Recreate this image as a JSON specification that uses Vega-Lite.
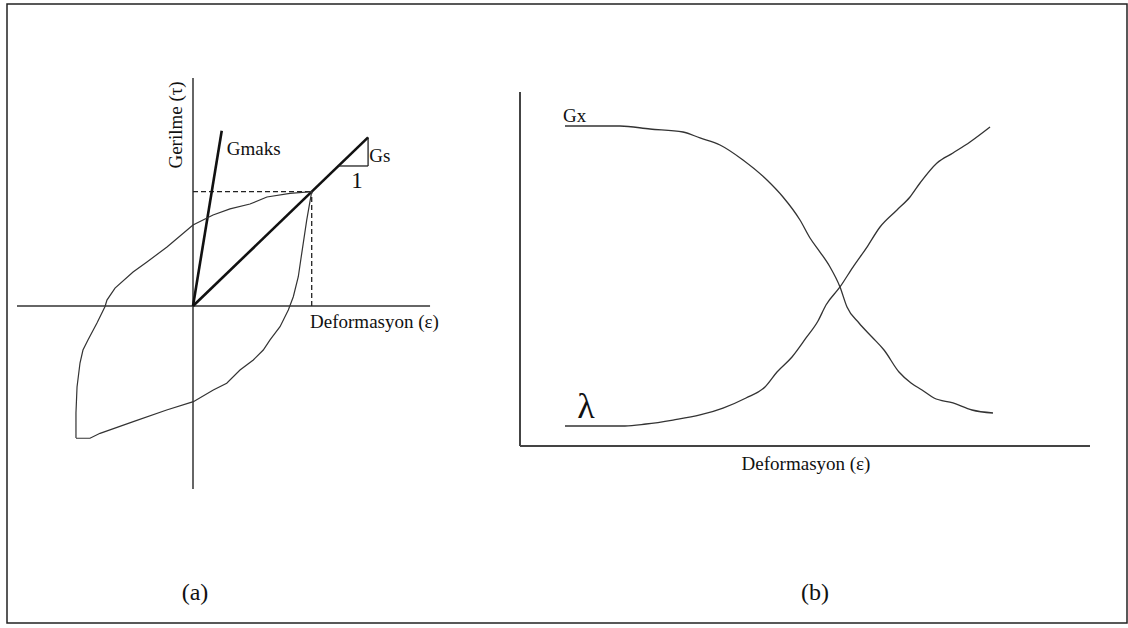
{
  "$schema": "https://vega.github.io/schema/vega-lite/v6.json",
  "width": 1128,
  "height": 628,
  "autosize": {"type": "fit", "contains": "padding"},
  "padding": {"left": 7, "top": 4, "right": 1, "bottom": 5},
  "background": "white",
  "config": {
    "view": {"stroke": "#222", "strokeWidth": 1.5},
    "text": {"font": "Liberation Serif", "color": "#111"}
  },
  "datasets": {
    "loop": [
      {"i": 0, "eps": -0.986, "tau": -1.155},
      {"i": 1, "eps": -0.986, "tau": -0.936},
      {"i": 2, "eps": -0.977, "tau": -0.709},
      {"i": 3, "eps": -0.952, "tau": -0.499},
      {"i": 4, "eps": -0.927, "tau": -0.385},
      {"i": 5, "eps": -0.885, "tau": -0.297},
      {"i": 6, "eps": -0.809, "tau": -0.149},
      {"i": 7, "eps": -0.741, "tau": -0.004},
      {"i": 8, "eps": -0.725, "tau": 0.052},
      {"i": 9, "eps": -0.657, "tau": 0.157},
      {"i": 10, "eps": -0.505, "tau": 0.297},
      {"i": 11, "eps": -0.388, "tau": 0.385},
      {"i": 12, "eps": -0.219, "tau": 0.516},
      {"i": 13, "eps": 0.0, "tau": 0.709},
      {"i": 14, "eps": 0.169, "tau": 0.796},
      {"i": 15, "eps": 0.312, "tau": 0.85},
      {"i": 16, "eps": 0.48, "tau": 0.892},
      {"i": 17, "eps": 0.623, "tau": 0.954},
      {"i": 18, "eps": 0.817, "tau": 0.986},
      {"i": 19, "eps": 1.0, "tau": 1.0},
      {"i": 20, "eps": 0.958, "tau": 0.752},
      {"i": 21, "eps": 0.916, "tau": 0.461},
      {"i": 22, "eps": 0.887, "tau": 0.256},
      {"i": 23, "eps": 0.845, "tau": 0.081},
      {"i": 24, "eps": 0.803, "tau": -0.035},
      {"i": 25, "eps": 0.733, "tau": -0.181},
      {"i": 26, "eps": 0.649, "tau": -0.297},
      {"i": 27, "eps": 0.592, "tau": -0.385},
      {"i": 28, "eps": 0.508, "tau": -0.472},
      {"i": 29, "eps": 0.396, "tau": -0.56},
      {"i": 30, "eps": 0.284, "tau": -0.676},
      {"i": 31, "eps": 0.171, "tau": -0.735},
      {"i": 32, "eps": 0.003, "tau": -0.837},
      {"i": 33, "eps": -0.222, "tau": -0.91},
      {"i": 34, "eps": -0.503, "tau": -1.012},
      {"i": 35, "eps": -0.783, "tau": -1.114},
      {"i": 36, "eps": -0.868, "tau": -1.157},
      {"i": 37, "eps": -0.986, "tau": -1.157}
    ],
    "segA": [
      {"part": "axis", "eps": -1.483, "tau": 0, "eps2": 1.997, "tau2": 0},
      {"part": "axis", "eps": 0, "tau": -1.601, "eps2": 0, "tau2": 1.995},
      {"part": "dash", "eps": 0, "tau": 1, "eps2": 1, "tau2": 1},
      {"part": "dash", "eps": 1, "tau": 0, "eps2": 1, "tau2": 1},
      {"part": "secant", "eps": 0, "tau": 0, "eps2": 0.242, "tau2": 1.534},
      {"part": "secant", "eps": 0, "tau": 0, "eps2": 1.475, "tau2": 1.475},
      {"part": "tri", "eps": 1.225, "tau": 1.225, "eps2": 1.475, "tau2": 1.225},
      {"part": "tri", "eps": 1.475, "tau": 1.225, "eps2": 1.475, "tau2": 1.475}
    ],
    "textA": [
      {"label": "Gerilme (τ)", "eps": -0.143, "tau": 1.584},
      {"label": "Gmaks", "eps": 0.284, "tau": 1.321},
      {"label": "Gs", "eps": 1.485, "tau": 1.262},
      {"label": "1", "eps": 1.382, "tau": 1.029},
      {"label": "Deformasyon (ε)", "eps": 0.986, "tau": -0.192},
      {"label": "(a)", "eps": 0.017, "tau": -2.572}
    ],
    "curvesB": [
      {"series": "λ", "i": 0, "x": 0.789, "y": 0.565},
      {"series": "λ", "i": 1, "x": 1.404, "y": 0.565},
      {"series": "λ", "i": 2, "x": 1.842, "y": 0.565},
      {"series": "λ", "i": 3, "x": 2.211, "y": 0.621},
      {"series": "λ", "i": 4, "x": 2.684, "y": 0.734},
      {"series": "λ", "i": 5, "x": 3.158, "y": 0.876},
      {"series": "λ", "i": 6, "x": 3.561, "y": 1.073},
      {"series": "λ", "i": 7, "x": 3.965, "y": 1.356},
      {"series": "λ", "i": 8, "x": 4.298, "y": 1.667},
      {"series": "λ", "i": 9, "x": 4.509, "y": 2.09},
      {"series": "λ", "i": 10, "x": 4.772, "y": 2.514},
      {"series": "λ", "i": 11, "x": 5.018, "y": 3.051},
      {"series": "λ", "i": 12, "x": 5.228, "y": 3.531},
      {"series": "λ", "i": 13, "x": 5.368, "y": 3.983},
      {"series": "λ", "i": 14, "x": 5.614, "y": 4.492},
      {"series": "λ", "i": 15, "x": 5.842, "y": 5.056},
      {"series": "λ", "i": 16, "x": 6.088, "y": 5.621},
      {"series": "λ", "i": 17, "x": 6.316, "y": 6.186},
      {"series": "λ", "i": 18, "x": 6.614, "y": 6.667},
      {"series": "λ", "i": 19, "x": 6.842, "y": 7.034},
      {"series": "λ", "i": 20, "x": 7.018, "y": 7.429},
      {"series": "λ", "i": 21, "x": 7.316, "y": 7.994},
      {"series": "λ", "i": 22, "x": 7.596, "y": 8.277},
      {"series": "λ", "i": 23, "x": 7.895, "y": 8.588},
      {"series": "λ", "i": 24, "x": 8.246, "y": 9.011},
      {"series": "G", "i": 0, "x": 0.789, "y": 9.04},
      {"series": "G", "i": 1, "x": 1.754, "y": 9.04},
      {"series": "G", "i": 2, "x": 2.281, "y": 8.955},
      {"series": "G", "i": 3, "x": 2.86, "y": 8.87},
      {"series": "G", "i": 4, "x": 3.158, "y": 8.701},
      {"series": "G", "i": 5, "x": 3.509, "y": 8.503},
      {"series": "G", "i": 6, "x": 3.912, "y": 8.079},
      {"series": "G", "i": 7, "x": 4.333, "y": 7.514},
      {"series": "G", "i": 8, "x": 4.614, "y": 7.034},
      {"series": "G", "i": 9, "x": 4.912, "y": 6.384},
      {"series": "G", "i": 10, "x": 5.088, "y": 5.876},
      {"series": "G", "i": 11, "x": 5.263, "y": 5.48},
      {"series": "G", "i": 12, "x": 5.439, "y": 5.056},
      {"series": "G", "i": 13, "x": 5.614, "y": 4.492},
      {"series": "G", "i": 14, "x": 5.737, "y": 3.927},
      {"series": "G", "i": 15, "x": 5.947, "y": 3.475},
      {"series": "G", "i": 16, "x": 6.175, "y": 3.079},
      {"series": "G", "i": 17, "x": 6.386, "y": 2.712},
      {"series": "G", "i": 18, "x": 6.649, "y": 2.09},
      {"series": "G", "i": 19, "x": 6.86, "y": 1.78},
      {"series": "G", "i": 20, "x": 7.053, "y": 1.582},
      {"series": "G", "i": 21, "x": 7.263, "y": 1.356},
      {"series": "G", "i": 22, "x": 7.596, "y": 1.215},
      {"series": "G", "i": 23, "x": 7.93, "y": 1.017},
      {"series": "G", "i": 24, "x": 8.298, "y": 0.932}
    ],
    "segB": [
      {"x": 0, "y": 0, "x2": 0, "y2": 10},
      {"x": 0, "y": 0, "x2": 10, "y2": 0}
    ],
    "textB": [
      {"label": "Gx", "x": 0.754, "y": 9.153},
      {"label": "λ", "x": 1.158, "y": 0.791},
      {"label": "Deformasyon (ε)", "x": 5.018, "y": -0.678},
      {"label": "(b)", "x": 5.175, "y": -4.35}
    ]
  },
  "resolve": {"scale": {"x": "independent", "y": "independent"}},
  "layer": [
    {
      "data": {"name": "segA"},
      "transform": [{"filter": "datum.part === 'axis'"}],
      "mark": {"type": "rule", "color": "#333", "strokeWidth": 1.5},
      "encoding": {
        "x": {"field": "eps", "type": "quantitative", "scale": {"domain": [-1.567, 7.8686], "nice": false, "zero": false}, "axis": null},
        "y": {"field": "tau", "type": "quantitative", "scale": {"domain": [-2.7734, 2.6422], "nice": false, "zero": false}, "axis": null},
        "x2": {"field": "eps2"},
        "y2": {"field": "tau2"}
      }
    },
    {
      "data": {"name": "segA"},
      "transform": [{"filter": "datum.part === 'dash'"}],
      "mark": {"type": "rule", "color": "#222", "strokeWidth": 1.3, "strokeDash": [5, 3]},
      "encoding": {
        "x": {"field": "eps", "type": "quantitative", "scale": {"domain": [-1.567, 7.8686], "nice": false, "zero": false}, "axis": null},
        "y": {"field": "tau", "type": "quantitative", "scale": {"domain": [-2.7734, 2.6422], "nice": false, "zero": false}, "axis": null},
        "x2": {"field": "eps2"},
        "y2": {"field": "tau2"}
      }
    },
    {
      "data": {"name": "segA"},
      "transform": [{"filter": "datum.part === 'secant'"}],
      "mark": {"type": "rule", "color": "#111", "strokeWidth": 2.6},
      "encoding": {
        "x": {"field": "eps", "type": "quantitative", "scale": {"domain": [-1.567, 7.8686], "nice": false, "zero": false}, "axis": null},
        "y": {"field": "tau", "type": "quantitative", "scale": {"domain": [-2.7734, 2.6422], "nice": false, "zero": false}, "axis": null},
        "x2": {"field": "eps2"},
        "y2": {"field": "tau2"}
      }
    },
    {
      "data": {"name": "segA"},
      "transform": [{"filter": "datum.part === 'tri'"}],
      "mark": {"type": "rule", "color": "#222", "strokeWidth": 1.3},
      "encoding": {
        "x": {"field": "eps", "type": "quantitative", "scale": {"domain": [-1.567, 7.8686], "nice": false, "zero": false}, "axis": null},
        "y": {"field": "tau", "type": "quantitative", "scale": {"domain": [-2.7734, 2.6422], "nice": false, "zero": false}, "axis": null},
        "x2": {"field": "eps2"},
        "y2": {"field": "tau2"}
      }
    },
    {
      "data": {"name": "loop"},
      "mark": {"type": "line", "color": "#333", "strokeWidth": 1.2, "interpolate": "linear"},
      "encoding": {
        "x": {"field": "eps", "type": "quantitative", "scale": {"domain": [-1.567, 7.8686], "nice": false, "zero": false}, "axis": null},
        "y": {"field": "tau", "type": "quantitative", "scale": {"domain": [-2.7734, 2.6422], "nice": false, "zero": false}, "axis": null},
        "order": {"field": "i", "type": "quantitative"}
      }
    },
    {
      "data": {"name": "textA"},
      "transform": [{"filter": "datum.label === 'Gerilme (τ)'"}],
      "mark": {"type": "text", "angle": 270, "align": "center", "baseline": "middle", "fontSize": 19},
      "encoding": {
        "x": {"field": "eps", "type": "quantitative", "scale": {"domain": [-1.567, 7.8686], "nice": false, "zero": false}, "axis": null},
        "y": {"field": "tau", "type": "quantitative", "scale": {"domain": [-2.7734, 2.6422], "nice": false, "zero": false}, "axis": null},
        "text": {"field": "label"}
      }
    },
    {
      "data": {"name": "textA"},
      "transform": [{"filter": "datum.label === 'Gmaks' || datum.label === 'Gs' || datum.label === 'Deformasyon (ε)'"}],
      "mark": {"type": "text", "align": "left", "baseline": "alphabetic", "fontSize": 19},
      "encoding": {
        "x": {"field": "eps", "type": "quantitative", "scale": {"domain": [-1.567, 7.8686], "nice": false, "zero": false}, "axis": null},
        "y": {"field": "tau", "type": "quantitative", "scale": {"domain": [-2.7734, 2.6422], "nice": false, "zero": false}, "axis": null},
        "text": {"field": "label"}
      }
    },
    {
      "data": {"name": "textA"},
      "transform": [{"filter": "datum.label === '1'"}],
      "mark": {"type": "text", "align": "center", "baseline": "alphabetic", "fontSize": 23},
      "encoding": {
        "x": {"field": "eps", "type": "quantitative", "scale": {"domain": [-1.567, 7.8686], "nice": false, "zero": false}, "axis": null},
        "y": {"field": "tau", "type": "quantitative", "scale": {"domain": [-2.7734, 2.6422], "nice": false, "zero": false}, "axis": null},
        "text": {"field": "label"}
      }
    },
    {
      "data": {"name": "textA"},
      "transform": [{"filter": "datum.label === '(a)'"}],
      "mark": {"type": "text", "align": "center", "baseline": "alphabetic", "fontSize": 24},
      "encoding": {
        "x": {"field": "eps", "type": "quantitative", "scale": {"domain": [-1.567, 7.8686], "nice": false, "zero": false}, "axis": null},
        "y": {"field": "tau", "type": "quantitative", "scale": {"domain": [-2.7734, 2.6422], "nice": false, "zero": false}, "axis": null},
        "text": {"field": "label"}
      }
    },
    {
      "data": {"name": "segB"},
      "mark": {"type": "rule", "color": "#444", "strokeWidth": 2},
      "encoding": {
        "x": {"field": "x", "type": "quantitative", "scale": {"domain": [-9, 10.6491], "nice": false, "zero": false}, "axis": null},
        "y": {"field": "y", "type": "quantitative", "scale": {"domain": [-5, 12.4859], "nice": false, "zero": false}, "axis": null},
        "x2": {"field": "x2"},
        "y2": {"field": "y2"}
      }
    },
    {
      "data": {"name": "curvesB"},
      "mark": {"type": "line", "color": "#333", "strokeWidth": 1.3, "interpolate": "monotone"},
      "encoding": {
        "x": {"field": "x", "type": "quantitative", "scale": {"domain": [-9, 10.6491], "nice": false, "zero": false}, "axis": null},
        "y": {"field": "y", "type": "quantitative", "scale": {"domain": [-5, 12.4859], "nice": false, "zero": false}, "axis": null},
        "detail": {"field": "series", "type": "nominal"},
        "order": {"field": "i", "type": "quantitative"}
      }
    },
    {
      "data": {"name": "textB"},
      "transform": [{"filter": "datum.label === 'Gx'"}],
      "mark": {"type": "text", "align": "left", "baseline": "alphabetic", "fontSize": 19},
      "encoding": {
        "x": {"field": "x", "type": "quantitative", "scale": {"domain": [-9, 10.6491], "nice": false, "zero": false}, "axis": null},
        "y": {"field": "y", "type": "quantitative", "scale": {"domain": [-5, 12.4859], "nice": false, "zero": false}, "axis": null},
        "text": {"field": "label"}
      }
    },
    {
      "data": {"name": "textB"},
      "transform": [{"filter": "datum.label === 'λ'"}],
      "mark": {"type": "text", "align": "center", "baseline": "alphabetic", "fontSize": 36},
      "encoding": {
        "x": {"field": "x", "type": "quantitative", "scale": {"domain": [-9, 10.6491], "nice": false, "zero": false}, "axis": null},
        "y": {"field": "y", "type": "quantitative", "scale": {"domain": [-5, 12.4859], "nice": false, "zero": false}, "axis": null},
        "text": {"field": "label"}
      }
    },
    {
      "data": {"name": "textB"},
      "transform": [{"filter": "datum.label === 'Deformasyon (ε)'"}],
      "mark": {"type": "text", "align": "center", "baseline": "alphabetic", "fontSize": 19},
      "encoding": {
        "x": {"field": "x", "type": "quantitative", "scale": {"domain": [-9, 10.6491], "nice": false, "zero": false}, "axis": null},
        "y": {"field": "y", "type": "quantitative", "scale": {"domain": [-5, 12.4859], "nice": false, "zero": false}, "axis": null},
        "text": {"field": "label"}
      }
    },
    {
      "data": {"name": "textB"},
      "transform": [{"filter": "datum.label === '(b)'"}],
      "mark": {"type": "text", "align": "center", "baseline": "alphabetic", "fontSize": 24},
      "encoding": {
        "x": {"field": "x", "type": "quantitative", "scale": {"domain": [-9, 10.6491], "nice": false, "zero": false}, "axis": null},
        "y": {"field": "y", "type": "quantitative", "scale": {"domain": [-5, 12.4859], "nice": false, "zero": false}, "axis": null},
        "text": {"field": "label"}
      }
    }
  ]
}
